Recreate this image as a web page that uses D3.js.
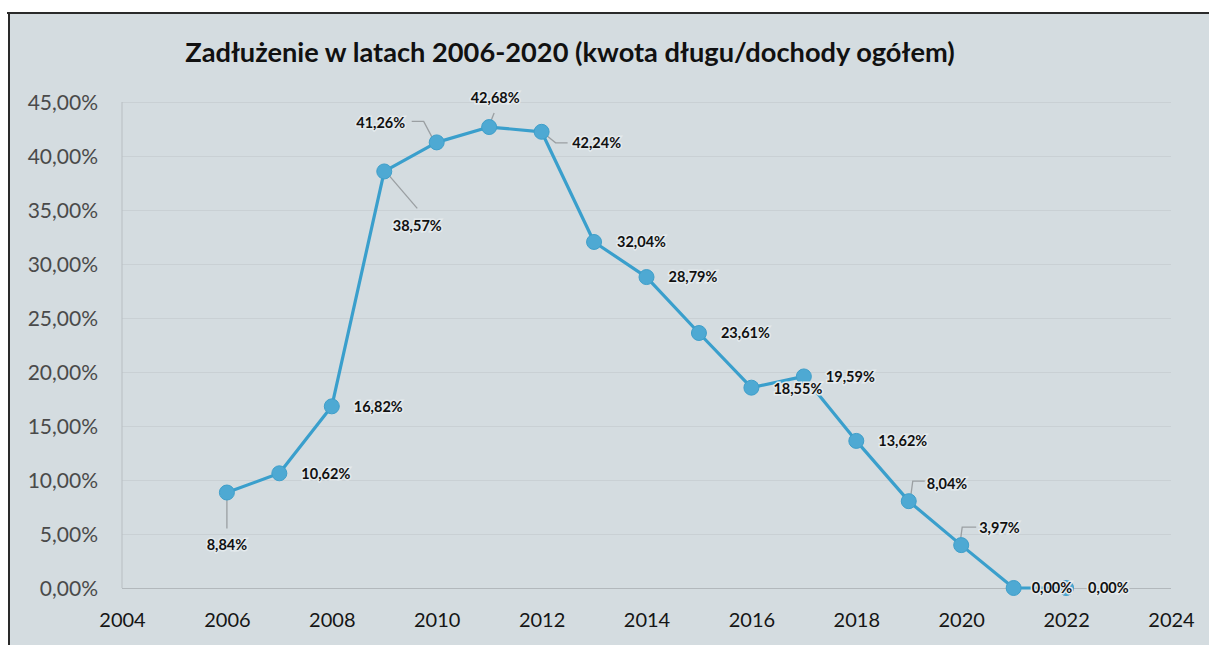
<!DOCTYPE html>
<html>
<head>
<meta charset="utf-8">
<script src="https://cdn.jsdelivr.net/npm/d3@7"></script>
<style>
  html, body { margin: 0; padding: 0; background: #ffffff; }
  svg { display: block; }
</style>
</head>
<body>
<svg id="chart" width="1209" height="645"></svg>
<script>
// ---- data ----
const years = [2006, 2007, 2008, 2009, 2010, 2011, 2012, 2013, 2014, 2015, 2016, 2017, 2018, 2019, 2020, 2021, 2022];
const debtRatio = [8.84, 10.62, 16.82, 38.57, 41.26, 42.68, 42.24, 32.04, 28.79, 23.61, 18.55, 19.59, 13.62, 8.04, 3.97, 0.00, 0.00];
const xTicks = [2004, 2006, 2008, 2010, 2012, 2014, 2016, 2018, 2020, 2022, 2024];
const yTicks = [0, 5, 10, 15, 20, 25, 30, 35, 40, 45];
const titleText = "Zadłużenie w latach 2006-2020 (kwota długu/dochody ogółem)";

// ---- label layout (pixel offsets from each point) ----
// [dx, dy, anchor, leader polyline points relative to the point]
const labelLayout = [
  [0, 52, "middle", [[0, 3], [0, 36]]],
  [22, 0, "start", null],
  [22, 0, "start", null],
  [33, 54, "middle", [[3, 2], [33, 37]]],
  [-56, -20, "middle", [[-3, -2], [-13, -21], [-25, -21]]],
  [6, -29, "middle", [[1, -4], [5, -14]]],
  [55, 11, "middle", [[4, 3], [14, 11], [26, 11]]],
  [23, 0, "start", null],
  [22, 0, "start", null],
  [22, 0, "start", null],
  [22, 1, "start", null],
  [22, 0, "start", null],
  [22, 0, "start", null],
  [18, -17, "start", [[2, -5], [4, -20], [16, -20]]],
  [18, -17, "start", [[-1, -3], [1, -18], [15, -18]]],
  [18, 0, "start", null],
  [22, 0, "start", null]
];

const fmt = v => v.toFixed(2).replace(".", ",") + "%";

const svg = d3.select("#chart");
const W = 1209, H = 645;

// scanned page frame
svg.append("rect").attr("x", 0).attr("y", 0).attr("width", W).attr("height", H).attr("fill", "#ffffff");
svg.append("rect").attr("x", 9).attr("y", 13).attr("width", W - 9).attr("height", H - 13).attr("fill", "#d4dce0");
svg.append("line").attr("x1", 7).attr("x2", W).attr("y1", 13).attr("y2", 13).attr("stroke", "#2a2a2a").attr("stroke-width", 2);
svg.append("line").attr("x1", 9).attr("x2", 9).attr("y1", 13).attr("y2", H).attr("stroke", "#2a2a2a").attr("stroke-width", 2);

const x = d3.scaleLinear().domain([2004, 2024]).range([122, 1171]);
const y = d3.scaleLinear().domain([0, 45]).range([588, 102]);

// gridlines
const grid = svg.append("g")
  .call(d3.axisLeft(y).tickValues(yTicks).tickSize(-(x.range()[1] - x.range()[0])).tickFormat(""))
  .attr("transform", `translate(${x.range()[0]},0)`);
grid.select(".domain").remove();
grid.selectAll(".tick line").attr("stroke", "#c9d0d4").attr("stroke-width", 1);
grid.selectAll(".tick").filter(d => d === 0).select("line").attr("stroke", "#b2b8bc");

// y axis line
svg.append("line").attr("x1", x.range()[0]).attr("x2", x.range()[0])
  .attr("y1", y(45)).attr("y2", y(0)).attr("stroke", "#b8bec2").attr("stroke-width", 1);

// y tick labels
const yAxis = svg.append("g")
  .attr("transform", `translate(${x.range()[0]},0)`)
  .call(d3.axisLeft(y).tickValues(yTicks).tickSize(0).tickPadding(24).tickFormat(d => d.toFixed(2).replace(".", ",") + "%"));
yAxis.select(".domain").remove();
yAxis.selectAll("text").attr("font-family", "Lato, 'Open Sans', sans-serif").attr("font-size", 21)
  .attr("fill", "#4a4a4a").attr("dy", "0.36em");

// x tick labels
const xAxis = svg.append("g")
  .attr("transform", `translate(0,${y(0)})`)
  .call(d3.axisBottom(x).tickValues(xTicks).tickSize(0).tickPadding(25).tickFormat(d3.format("d")));
xAxis.select(".domain").remove();
xAxis.selectAll("text").attr("font-family", "Lato, 'Open Sans', sans-serif").attr("font-size", 20)
  .attr("fill", "#151515").attr("dy", "0.71em");

// title
const title = svg.append("text")
  .attr("x", 570).attr("y", 62)
  .attr("text-anchor", "middle")
  .attr("font-family", "Lato, 'Open Sans', sans-serif")
  .attr("font-weight", "bold")
  .attr("font-size", 23)
  .attr("fill", "#111111")
  .text(titleText);
const tw = title.node().getComputedTextLength();
title.attr("font-size", 23 * 770 / tw);

const pts = years.map((yr, i) => ({ yr, v: debtRatio[i], L: labelLayout[i] }));

// leader lines
svg.append("g").selectAll("polyline")
  .data(pts.filter(d => d.L[3]))
  .join("polyline")
  .attr("points", d => d.L[3].map(p => [x(d.yr) + p[0], y(d.v) + p[1]].join(",")).join(" "))
  .attr("fill", "none").attr("stroke", "#9a9fa2").attr("stroke-width", 1.3);

// line
svg.append("path")
  .datum(pts)
  .attr("d", d3.line().x(d => x(d.yr)).y(d => y(d.v)))
  .attr("fill", "none").attr("stroke", "#3a9fcc").attr("stroke-width", 3.2)
  .attr("stroke-linejoin", "round");

// markers
svg.append("g").selectAll("circle")
  .data(pts)
  .join("circle")
  .attr("cx", d => x(d.yr)).attr("cy", d => y(d.v)).attr("r", 7.5)
  .attr("fill", "#4ea9d3").attr("stroke", "#3f9fca").attr("stroke-width", 1);

// data labels
svg.append("g").selectAll("text")
  .data(pts)
  .join("text")
  .attr("x", d => x(d.yr) + d.L[0])
  .attr("y", d => y(d.v) + d.L[1])
  .attr("dy", "0.36em")
  .attr("text-anchor", d => d.L[2])
  .attr("font-family", "Lato, 'Open Sans', sans-serif")
  .attr("font-weight", "bold")
  .attr("font-size", 14.5)
  .attr("fill", "#111111")
  .attr("stroke", "#e4eaed").attr("stroke-width", 3).attr("paint-order", "stroke")
  .text(d => fmt(d.v));
</script>
</body>
</html>
